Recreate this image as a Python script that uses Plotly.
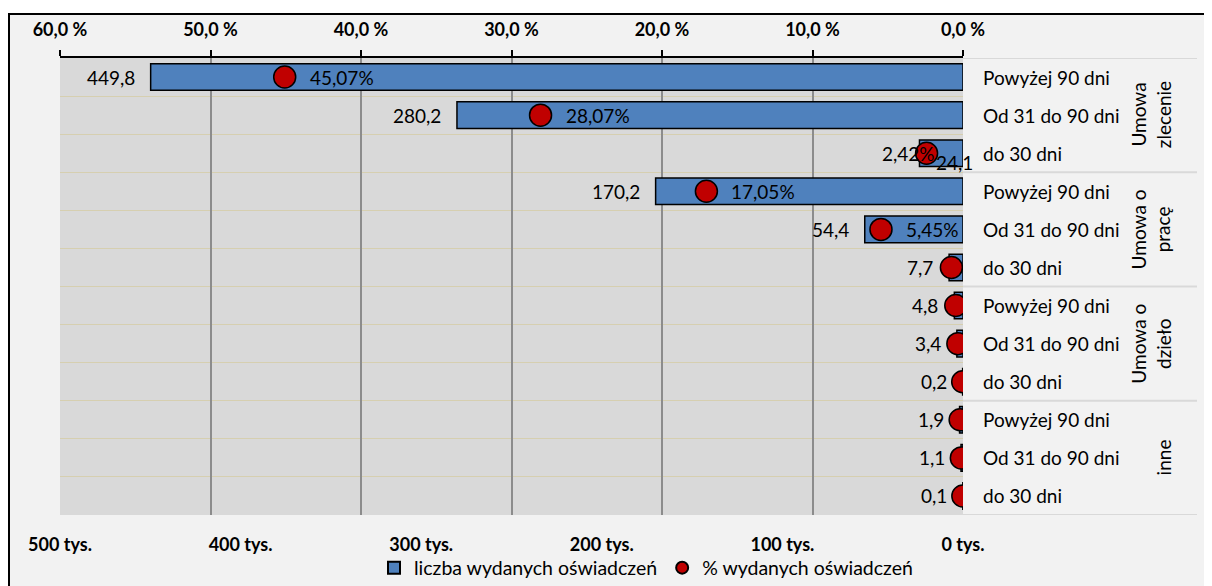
import plotly.graph_objects as go

# ---- data ----
row_labels = ["Powyżej 90 dni", "Od 31 do 90 dni", "do 30 dni"] * 4
groups = ["Umowa<br>zlecenie", "Umowa o<br>pracę", "Umowa o<br>dzieło", "inne"]
counts = [449.8, 280.2, 24.1, 170.2, 54.4, 7.7, 4.8, 3.4, 0.2, 1.9, 1.1, 0.1]   # tys.
pcts = [45.07, 28.07, 2.42, 17.05, 5.45, 0.77, 0.48, 0.34, 0.02, 0.19, 0.11, 0.01]
count_ticks = [0, 100, 200, 300, 400, 500]
count_ticktext = [f"{v} tys." for v in count_ticks]
pct_ticks = [0, 10, 20, 30, 40, 50, 60]
pct_ticktext = [f"{v:.1f} %".replace(".", ",") for v in pct_ticks]

FONT = "Lato"
FS = 19
rows = list(range(len(counts)))

# page has an 8px body margin; work in page pixels
OFF = 8
W, H = 1204, 578
PL, PR, PT, PB = 60, 963, 58, 515   # plot area in page pixels
L = PL - OFF
T = PT - OFF
R = W - (PR - OFF)
B = H - (PB - OFF)
pw = PR - PL
ph = PB - PT

def px2paper_x(px):
    return (px - PL) / pw

def px2paper_y(py):
    return (PB - py) / ph

fig = go.Figure()

fig.add_trace(go.Bar(
    x=counts, y=rows, orientation="h", xaxis="x", yaxis="y",
    width=0.7,
    marker=dict(color="#4f81bd", line=dict(color="black", width=1.5)),
    name="liczba wydanych oświadczeń", hoverinfo="skip",
))
fig.add_trace(go.Scatter(
    x=pcts, y=rows, xaxis="x2", yaxis="y", mode="markers",
    marker=dict(size=22, color="#c00000", line=dict(color="black", width=1.5)),
    name="% wydanych oświadczeń", hoverinfo="skip",
))

ann = []
# value labels
for i, v in enumerate(counts):
    txt = f"{v:.1f}".replace(".", ",")
    if i == 2:
        ann.append(dict(x=v, y=i, xref="x", yref="y", text=txt, showarrow=False,
                        xanchor="left", xshift=15, yshift=-9,
                        font=dict(family=FONT, size=FS, color="black")))
    else:
        ann.append(dict(x=v, y=i, xref="x", yref="y", text=txt, showarrow=False,
                        xanchor="right", xshift=-14,
                        font=dict(family=FONT, size=FS, color="black")))
# percent labels
for i, p in enumerate(pcts):
    if p < 1:
        continue
    txt = f"{p:.2f}%".replace(".", ",")
    if i == 2:
        ann.append(dict(x=p, y=i, xref="x2", yref="y", text=txt, showarrow=False,
                        xanchor="right", xshift=10,
                        font=dict(family=FONT, size=FS, color="black")))
    else:
        ann.append(dict(x=p, y=i, xref="x2", yref="y", text=txt, showarrow=False,
                        xanchor="left", xshift=23,
                        font=dict(family=FONT, size=FS, color="black")))
# row labels
for i, lab in enumerate(row_labels):
    ann.append(dict(x=px2paper_x(981), y=i, xref="paper", yref="y", text=lab,
                    showarrow=False, xanchor="left",
                    font=dict(family=FONT, size=FS, color="black")))
# group labels (rotated, anchored at their right side)
for g, lab in enumerate(groups):
    ann.append(dict(x=px2paper_x(1177), y=g * 3 + 1, xref="paper", yref="y", text=lab,
                    showarrow=False, textangle=-90, xanchor="right", yanchor="middle",
                    font=dict(family=FONT, size=FS, color="black")))

shapes = [
    # white strip above the frame
    dict(type="rect", xref="paper", yref="paper",
         x0=px2paper_x(0), x1=px2paper_x(1240), y0=px2paper_y(13), y1=px2paper_y(0),
         fillcolor="white", line=dict(width=0), layer="below"),
    # frame border
    dict(type="rect", xref="paper", yref="paper",
         x0=px2paper_x(9), x1=px2paper_x(1240), y0=px2paper_y(620), y1=px2paper_y(14),
         fillcolor="#f2f2f2", line=dict(color="black", width=2), layer="below"),
    # plot area
    dict(type="rect", xref="paper", yref="paper", x0=0, x1=1, y0=0, y1=1,
         fillcolor="#d9d9d9", line=dict(width=0), layer="below"),
]
for b in [-0.5, 2.5, 5.5, 8.5, 11.5]:
    shapes.append(dict(type="line", xref="paper", yref="y",
                       x0=1.0, x1=px2paper_x(1197), y0=b, y1=b,
                       line=dict(color="#d9d9d9", width=2), layer="below"))

fig.update_layout(
    width=W, height=H,
    margin=dict(l=L, r=R, t=T, b=B, autoexpand=False),
    paper_bgcolor="#f2f2f2",
    plot_bgcolor="rgba(0,0,0,0)",
    barmode="overlay",
    font=dict(family=FONT, size=FS, color="black"),
    xaxis=dict(
        range=[500, 0], tickvals=count_ticks, ticktext=count_ticktext,
        side="bottom", showgrid=False, automargin=False,
        zeroline=False, showline=False, ticks="",
        tickfont=dict(family=FONT, size=18, color="black", weight="bold"),
        ticklabelstandoff=17, fixedrange=True,
    ),
    xaxis2=dict(
        range=[60, 0], tickvals=pct_ticks, ticktext=pct_ticktext,
        overlaying="x", side="top", showgrid=True, gridcolor="#8c8c8c", gridwidth=1.5,
        zeroline=False, automargin=False,
        showline=True, linecolor="black", linewidth=2,
        ticks="outside", ticklen=6, tickcolor="black", tickwidth=1.5,
        tickfont=dict(family=FONT, size=18, color="black", weight="bold"),
        ticklabelstandoff=7,
    ),
    yaxis=dict(
        range=[11.5, -0.5], tickvals=[k + 0.5 for k in range(-1, 12)],
        showticklabels=False, showgrid=True, gridcolor="#d6cfb0", gridwidth=1,
        zeroline=False, showline=False, ticks="", automargin=False,
    ),
    legend=dict(
        orientation="h", x=px2paper_x(646), xanchor="center",
        y=px2paper_y(568), yanchor="middle",
        bgcolor="rgba(0,0,0,0)", itemsizing="constant", itemwidth=30,
        font=dict(family=FONT, size=19.5, color="black"),
        traceorder="normal",
    ),
    annotations=ann,
    shapes=shapes,
)

fig.write_html("out.html")
